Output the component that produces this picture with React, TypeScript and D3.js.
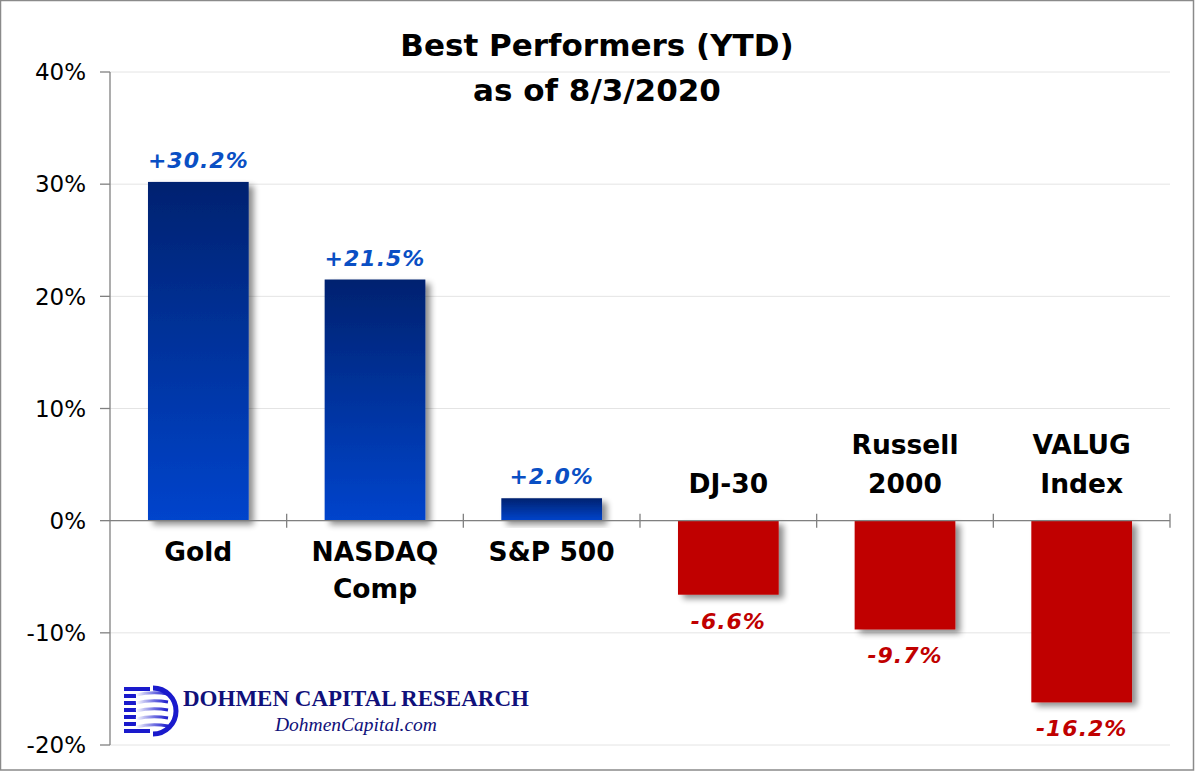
import React from "react";
import * as d3 from "d3";

const categories: string[][] = [["Gold"], ["NASDAQ", "Comp"], ["S&P 500"], ["DJ-30"], ["Russell", "2000"], ["VALUG", "Index"]];
const values: number[] = [30.2, 21.5, 2.0, -6.6, -9.7, -16.2];
const valueLabels: string[] = ["+30.2%", "+21.5%", "+2.0%", "-6.6%", "-9.7%", "-16.2%"];
const yTicks: number[] = [-20, -10, 0, 10, 20, 30, 40];

const W = 1195;
const H = 771;
const FONT = "'DejaVu Sans', Verdana, sans-serif";

export default function App() {
  const x = d3.scaleBand<number>().domain(d3.range(categories.length)).range([110, 1170]).paddingInner(0.43).paddingOuter(0.215);
  const step = x.step();
  const y = d3.scaleLinear().domain([-20, 40]).range([745, 72]);
  const y0 = y(0);
  const boundaries = d3.range(categories.length + 1).map((i) => 110 + i * step);

  return (
    <svg width={W} height={H} style={{ position: "absolute", left: 0, top: 0, background: "#fff" }} fontFamily={FONT}>
      <defs>
        <linearGradient id="blueGrad" x1="0" y1="0" x2="0" y2="1">
          <stop offset="0%" stopColor="#002270" />
          <stop offset="100%" stopColor="#0044cc" />
        </linearGradient>
        <filter id="shadow" x="-20%" y="-20%" width="150%" height="150%">
          <feGaussianBlur in="SourceAlpha" stdDeviation="3" />
          <feOffset dx="5" dy="4" result="b" />
          <feComponentTransfer>
            <feFuncA type="linear" slope="0.45" />
          </feComponentTransfer>
          <feMerge>
            <feMergeNode />
            <feMergeNode in="SourceGraphic" />
          </feMerge>
        </filter>
        <linearGradient id="stripe" x1="0" y1="0" x2="1" y2="0">
          <stop offset="0%" stopColor="#ffffff" />
          <stop offset="60%" stopColor="#6a6ae0" />
          <stop offset="100%" stopColor="#1a1acc" />
        </linearGradient>
      </defs>
      <rect x={0.5} y={0.5} width={W - 2} height={H - 1.5} fill="#fff" stroke="#8a8a8a" strokeWidth={1.5} />

      {/* gridlines */}
      {yTicks.map((t) => (
        <line key={"g" + t} x1={110} x2={1170} y1={y(t)} y2={y(t)} stroke="#e4e4e4" strokeWidth={1} />
      ))}
      {/* y axis */}
      <line x1={110} x2={110} y1={y(40)} y2={y(-20)} stroke="#808080" strokeWidth={1.3} />
      {yTicks.map((t) => (
        <g key={"t" + t}>
          <line x1={100} x2={110} y1={y(t)} y2={y(t)} stroke="#808080" strokeWidth={1.3} />
          <text x={86} y={y(t)} dy="0.36em" textAnchor="end" fontSize={23} fill="#000">
            {t + "%"}
          </text>
        </g>
      ))}

      {/* bars */}
      {values.map((v, i) => (
        <rect
          key={"b" + i}
          x={x(i)}
          width={x.bandwidth()}
          y={v >= 0 ? y(v) : y0}
          height={Math.abs(y(v) - y0)}
          fill={v >= 0 ? "url(#blueGrad)" : "#c00000"}
          filter="url(#shadow)"
        />
      ))}

      {/* zero axis */}
      <line x1={110} x2={1170} y1={y0} y2={y0} stroke="#808080" strokeWidth={1.3} />
      {boundaries.slice(1).map((b, i) => (
        <line key={"zb" + i} x1={b} x2={b} y1={y0 - 7} y2={y0 + 7} stroke="#808080" strokeWidth={1.3} />
      ))}

      {/* value labels */}
      {values.map((v, i) => (
        <text
          key={"v" + i}
          x={(x(i) as number) + x.bandwidth() / 2}
          y={v >= 0 ? y(v) - 14 : y(v) + 34}
          textAnchor="middle"
          fontSize={22}
          fontWeight="bold"
          fontStyle="italic"
          letterSpacing={1}
          fill={v >= 0 ? "#0a4fc4" : "#c00000"}
        >
          {valueLabels[i]}
        </text>
      ))}

      {/* category labels */}
      {categories.map((lines, i) => {
        const cx = (x(i) as number) + x.bandwidth() / 2;
        const v = values[i];
        return lines.map((ln, j) => {
          const yy = v >= 0 ? y0 + 40 + j * 37 : y0 - 28 - (lines.length - 1 - j) * 39;
          return (
            <text key={"c" + i + "-" + j} x={cx} y={yy} textAnchor="middle" fontSize={26.5} fontWeight="bold" fill="#000">
              {ln}
            </text>
          );
        });
      })}

      {/* title */}
      <text x={597} y={56} textAnchor="middle" fontSize={31} fontWeight="bold" fill="#000">
        Best Performers (YTD)
      </text>
      <text x={597} y={101} textAnchor="middle" fontSize={31} fontWeight="bold" fill="#000">
        as of 8/3/2020
      </text>

      {/* logo */}
      <g>
        {[0, 1, 2, 3, 4, 5, 6].map((k) => (
          <rect key={"s" + k} x={124} y={687 + k * 7} width={k === 0 || k === 6 ? 26 : 12} height={4} fill="#1a1acc" />
        ))}
        {[0, 1, 2, 3, 4].map((k) => (
          <path key={"w" + k} d={`M136 ${695 + k * 8} Q152 ${691 + k * 8} 168 ${694 + k * 8}`} stroke="url(#stripe)" strokeWidth={3} fill="none" />
        ))}
        <path d="M153 688 A23 23 0 0 1 153 734" stroke="#1a1acc" strokeWidth={5} fill="none" />
        <text x={183} y={706} fontFamily="'Liberation Serif', 'Times New Roman', serif" fontWeight="bold" fontSize={23} fill="#10107a">
          DOHMEN CAPITAL RESEARCH
        </text>
        <text x={356} y={731} textAnchor="middle" fontFamily="'Liberation Serif', 'Times New Roman', serif" fontStyle="italic" fontSize={19.5} fill="#10107a">
          DohmenCapital.com
        </text>
      </g>
    </svg>
  );
}
